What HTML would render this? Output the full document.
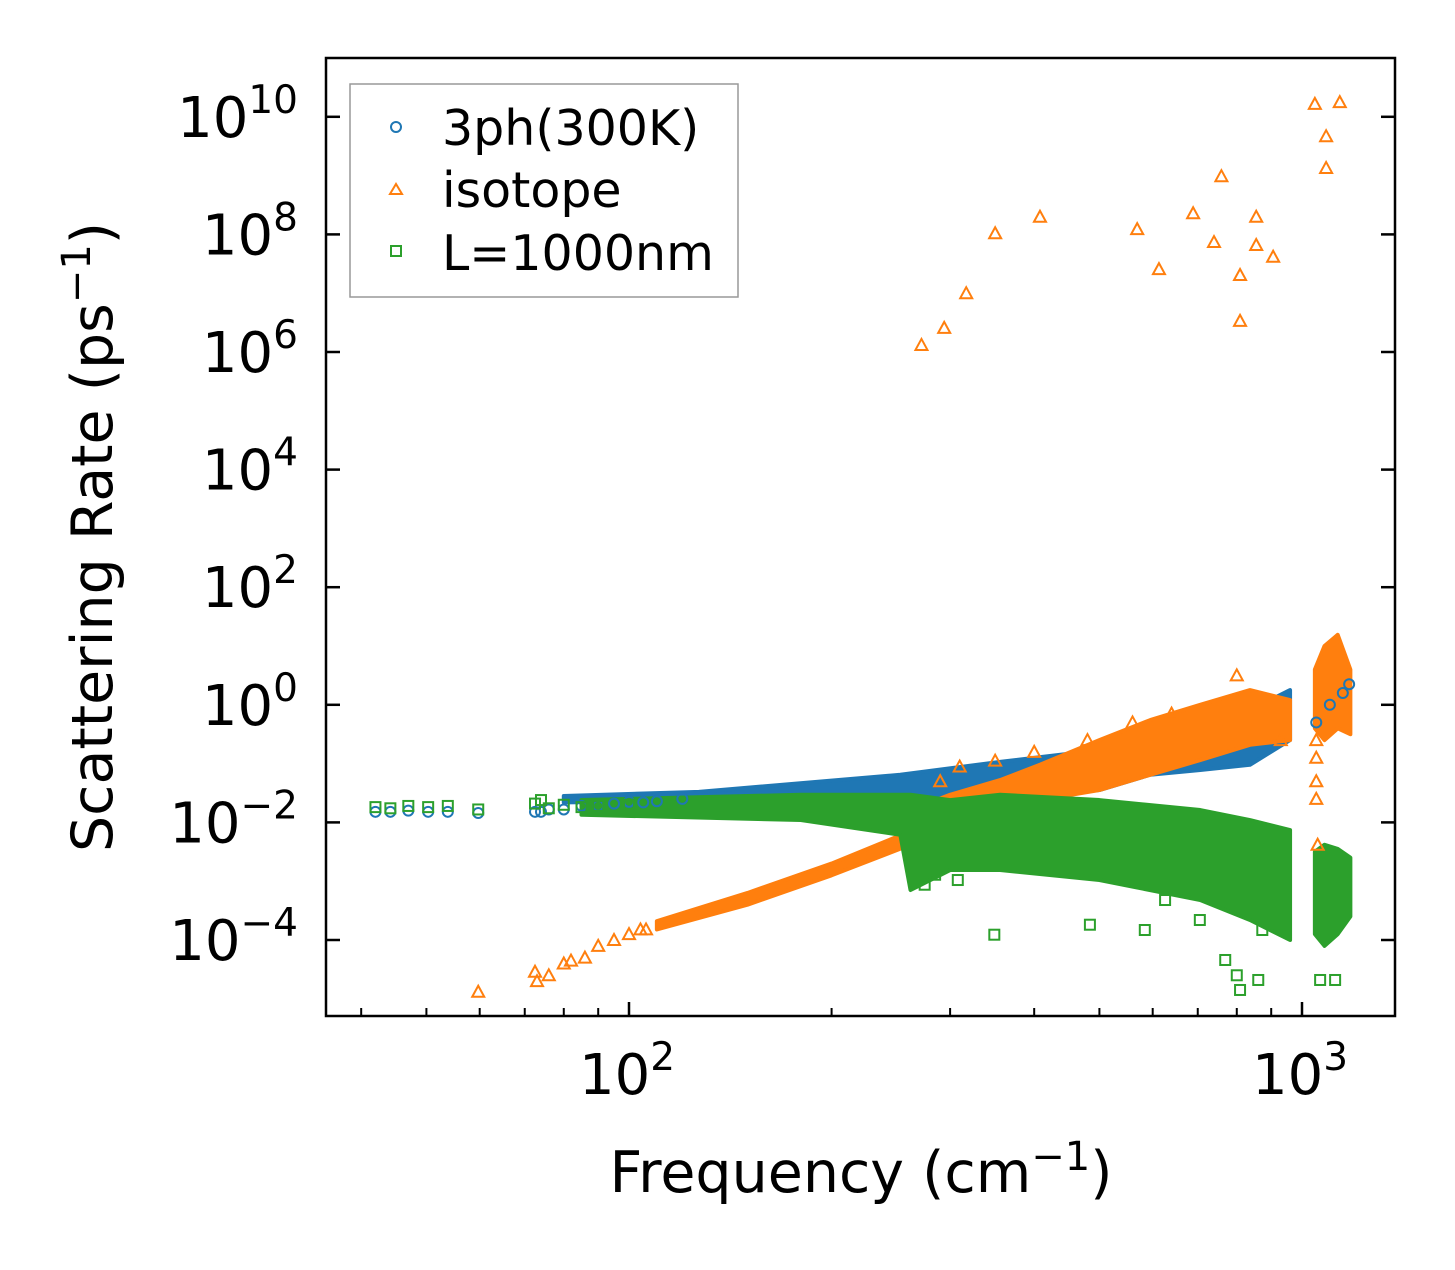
<!DOCTYPE html>
<html><head><meta charset="utf-8"><style>
html,body{margin:0;padding:0;background:#fff;}
svg text{font-family:"DejaVu Sans","Liberation Sans",sans-serif;fill:#000;}
</style></head><body>
<svg id="chart" xmlns="http://www.w3.org/2000/svg" width="1455" height="1265" viewBox="0 0 1455 1265">
<rect width="1455" height="1265" fill="#fff"/>
<g id="bands"></g>
<g id="marks"></g>
<g id="axes"></g>
<rect x="326" y="58" width="1069" height="958" fill="none" stroke="#000" stroke-width="2.5"/>
<text x="861" y="1192" font-size="57" text-anchor="middle">Frequency (cm<tspan dy="-22" font-size="40">−1</tspan><tspan dy="22">)</tspan></text>
<text transform="translate(112,537) rotate(-90)" font-size="57" text-anchor="middle">Scattering Rate (ps<tspan dy="-22" font-size="40">−1</tspan><tspan dy="22">)</tspan></text>
<g>
<rect x="350" y="84" width="388" height="213" fill="#fff" stroke="#999" stroke-width="1.5"/>
<circle cx="396" cy="127" r="5" fill="none" stroke="#1f77b4" stroke-width="2"/>
<text x="442" y="145" font-size="49">3ph(300K)</text>
<path d="M390,194 L396,184 L402,194 Z" fill="none" stroke="#ff7f0e" stroke-width="2"/>
<text x="442" y="207" font-size="49">isotope</text>
<rect x="391" y="246" width="10" height="10" fill="none" stroke="#2ca02c" stroke-width="2"/>
<text x="442" y="270" font-size="49">L=1000nm</text>
</g>
</svg>
<script>
// ---- data (frequency in cm^-1, values as log10 of rate) ----
const blueBandF=[80,127,253,356,500,595,706,837,960];
const blueBandLo=[-1.66,-1.64,-1.62,-1.62,-1.45,-1.19,-1.11,-1.02,-0.6];
const blueBandHi=[-1.55,-1.48,-1.19,-0.97,-0.77,-0.51,-0.26,-0.09,0.25];
const blueF=[42,44.2,47,50.3,53.8,59.7,72.5,74,76,80,85,90,95,100,105,110,120,1050,1100,1150,1175];
const blueV=[-1.82,-1.82,-1.8,-1.82,-1.82,-1.84,-1.82,-1.82,-1.78,-1.78,-1.72,-1.72,-1.68,-1.65,-1.66,-1.64,-1.6,-0.3,0.0,0.2,0.35];
const greenBandF=[85,180,253,262,300,356,500,706,837,960];
const greenBandLo=[-1.87,-1.96,-2.21,-3.15,-2.81,-2.81,-2.98,-3.32,-3.66,-4.0];
const greenBandHi=[-1.62,-1.53,-1.53,-1.53,-1.62,-1.53,-1.62,-1.79,-1.96,-2.13];
const greenBand2F=[1045,1080,1130,1180];
const greenBand2Lo=[-3.9,-4.1,-3.9,-3.6];
const greenBand2Hi=[-2.5,-2.38,-2.45,-2.6];
const greenF=[42,44.2,47,50.3,53.8,59.7,72.5,74,76,80,85,90,100,275,285,308,349,484,584,626,705,769,800,809,861,873,927,1064,1120];
const greenV=[-1.74,-1.76,-1.72,-1.74,-1.72,-1.78,-1.68,-1.62,-1.76,-1.7,-1.74,-1.72,-1.7,-3.06,-2.89,-2.98,-3.91,-3.74,-3.83,-3.32,-3.66,-4.34,-4.6,-4.85,-4.68,-3.83,-3.74,-4.68,-4.68];
const orangeBandF=[110,150,200,262];
const orangeBandLo=[-3.82,-3.4,-2.9,-2.38];
const orangeBandHi=[-3.68,-3.2,-2.7,-2.15];
const orangeBand2F=[262,300,356,408,500,595,706,837,960];
const orangeBand2Lo=[-2.38,-2.13,-1.87,-1.62,-1.45,-1.19,-0.94,-0.68,-0.6];
const orangeBand2Hi=[-1.79,-1.53,-1.28,-1.02,-0.6,-0.26,0.0,0.25,0.08];
const orangeBand3F=[1045,1080,1130,1180];
const orangeBand3Lo=[-0.4,-0.6,-0.4,-0.5];
const orangeBand3Hi=[0.6,1.0,1.19,0.6];
const orangeF=[59.7,72.5,73,76,80,82,86,90,95,100,104,106,272,294,317,350,408,569,613,689,740,759,809,809,855,855,906,1045,1086,1086,1138,290,310,350,400,480,560,640,1050,1050,1050,1050,1055,930,800];
const orangeV=[-4.88,-4.54,-4.7,-4.6,-4.4,-4.35,-4.3,-4.1,-4.0,-3.9,-3.82,-3.82,6.12,6.41,7.0,8.02,8.3,8.09,7.41,8.36,7.87,8.99,7.31,6.53,8.3,7.82,7.62,10.22,9.67,9.13,10.25,-1.3,-1.05,-0.95,-0.8,-0.6,-0.3,-0.15,-0.6,-0.9,-1.3,-1.6,-2.38,-0.6,0.5];
const yTicks=[-4,-2,0,2,4,6,8,10];
const xTicks=[2,3];

// ---- scales ----
const X0=629, DX=673, Y0=940, DY=58.8;
const xs=f=>X0+(Math.log10(f)-2)*DX;
const ys=l=>Y0-(l+4)*DY;
const NS="http://www.w3.org/2000/svg";
function mk(tag,parent){const e=document.createElementNS(NS,tag);document.getElementById(parent).appendChild(e);return e;}

function band(F,lo,hi,color,name){
  const p=mk('polygon','bands');
  const pts=F.map((f,i)=>xs(f)+','+ys(hi[i])).concat(F.slice().reverse().map((f,i)=>xs(f)+','+ys(lo[F.length-1-i])));
  p.setAttribute('points',pts.join(' '));
  p.setAttribute('fill',color);p.setAttribute('stroke',color);p.setAttribute('stroke-width','4');p.setAttribute('stroke-linejoin','round');
  
  
}
band(orangeBandF,orangeBandLo,orangeBandHi,'#ff7f0e','isotope-cloud-low');
band(blueBandF,blueBandLo,blueBandHi,'#1f77b4','3ph-cloud');
band(orangeBand2F,orangeBand2Lo,orangeBand2Hi,'#ff7f0e','isotope-cloud-mid');
band(orangeBand3F,orangeBand3Lo,orangeBand3Hi,'#ff7f0e','isotope-cloud-high');
band(greenBandF,greenBandLo,greenBandHi,'#2ca02c','boundary-cloud');
band(greenBand2F,greenBand2Lo,greenBand2Hi,'#2ca02c','boundary-cloud-high');

blueF.forEach((f,i)=>{const c=mk('circle','marks');c.setAttribute('cx',xs(f));c.setAttribute('cy',ys(blueV[i]));c.setAttribute('r',5);c.setAttribute('fill','none');c.setAttribute('stroke','#1f77b4');c.setAttribute('stroke-width',2);

});
orangeF.forEach((f,i)=>{const x=xs(f),y=ys(orangeV[i]);const p=mk('path','marks');p.setAttribute('d',`M${x-6},${y+5} L${x},${y-6} L${x+6},${y+5} Z`);p.setAttribute('fill','none');p.setAttribute('stroke','#ff7f0e');p.setAttribute('stroke-width',2);

});
greenF.forEach((f,i)=>{const r=mk('rect','marks');r.setAttribute('x',xs(f)-5);r.setAttribute('y',ys(greenV[i])-5);r.setAttribute('width',10);r.setAttribute('height',10);r.setAttribute('fill','none');r.setAttribute('stroke','#2ca02c');r.setAttribute('stroke-width',2);

});

// ---- axes ----
yTicks.forEach(t=>{const y=ys(t);
  [[326,340],[1381,1395]].forEach(([a,b])=>{const l=mk('line','axes');l.setAttribute('x1',a);l.setAttribute('x2',b);l.setAttribute('y1',y);l.setAttribute('y2',y);l.setAttribute('stroke','#000');l.setAttribute('stroke-width',2.5);
  
  });
  const tx=mk('text','axes');tx.setAttribute('x',298);tx.setAttribute('y',y+20);tx.setAttribute('font-size',56);tx.setAttribute('text-anchor','end');
  
  
  tx.innerHTML='10<tspan dy="-24" font-size="39">'+(t<0?'−'+(-t):t)+'</tspan>';
});
for(let d=1;d<=3;d++){for(let m=1;m<10;m++){const f=m*Math.pow(10,d);const x=xs(f);if(x<327||x>1394)continue;
  const major=m===1;const l=mk('line','axes');l.setAttribute('x1',x);l.setAttribute('x2',x);l.setAttribute('y1',1016);l.setAttribute('y2',major?1002:1008);l.setAttribute('stroke','#000');l.setAttribute('stroke-width',major?2.5:2);
  
  }}
xTicks.forEach(t=>{const tx=mk('text','axes');tx.setAttribute('x',xs(Math.pow(10,t))-2);tx.setAttribute('y',1094);tx.setAttribute('font-size',56);tx.setAttribute('text-anchor','middle');
  
  
  tx.innerHTML='10<tspan dy="-24" font-size="39">'+t+'</tspan>';});
</script>
</body></html>
